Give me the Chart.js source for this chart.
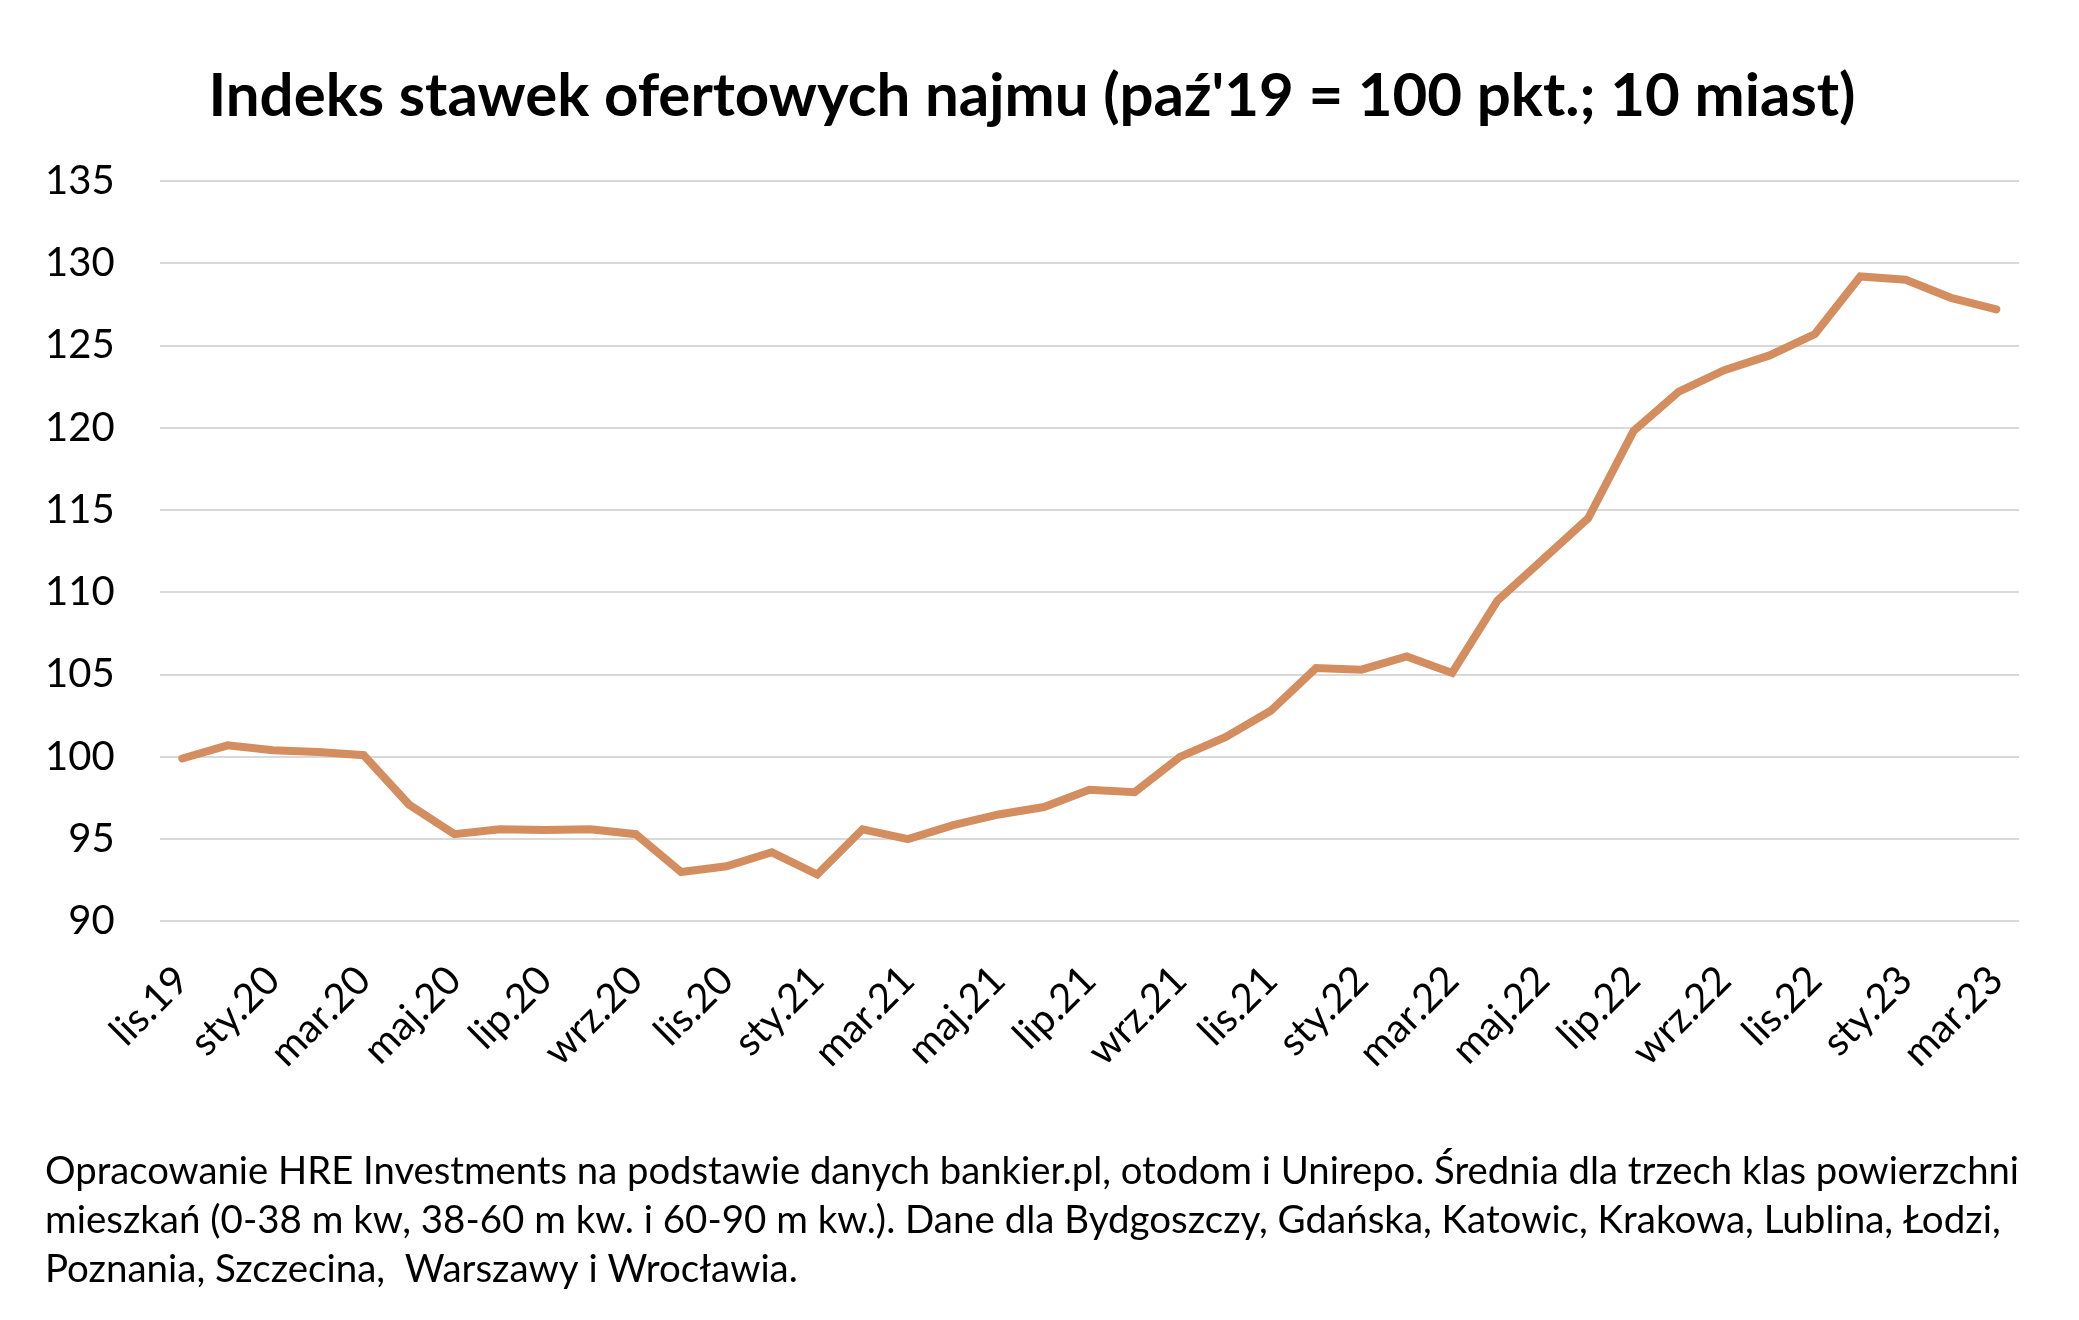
<!DOCTYPE html>
<html lang="pl">
<head>
<meta charset="utf-8">
<title>Indeks stawek ofertowych najmu</title>
<script src="https://cdn.jsdelivr.net/npm/chart.js@4.4.1/dist/chart.umd.min.js"></script>
<style>
  html, body { margin: 0; padding: 0; background: #fff; }
  #wrap { width: 2079px; height: 1320px; }
</style>
</head>
<body>
<div id="wrap"><canvas id="chart" width="2079" height="1320"></canvas></div>
<script>
// miesiące lis.19 - mar.23
const months = [
  "lis.19","gru.19",
  "sty.20","lut.20","mar.20","kwi.20","maj.20","cze.20","lip.20","sie.20","wrz.20","paź.20","lis.20","gru.20",
  "sty.21","lut.21","mar.21","kwi.21","maj.21","cze.21","lip.21","sie.21","wrz.21","paź.21","lis.21","gru.21",
  "sty.22","lut.22","mar.22","kwi.22","maj.22","cze.22","lip.22","sie.22","wrz.22","paź.22","lis.22","gru.22",
  "sty.23","lut.23","mar.23"
];

// indeks (paź'19 = 100)
const indexValues = [
  99.9, 100.7,
  100.4, 100.3, 100.1, 97.1, 95.3, 95.6, 95.55, 95.6, 95.3, 93.0, 93.35, 94.2,
  92.85, 95.6, 95.0, 95.85, 96.5, 96.95, 98.0, 97.85, 100.0, 101.2, 102.8, 105.4,
  105.3, 106.1, 105.1, 109.5, 112.0, 114.5, 119.8, 122.2, 123.5, 124.4, 125.7, 129.2,
  129.0, 127.9, 127.2
];

const yTicks = [90, 95, 100, 105, 110, 115, 120, 125, 130, 135];

const titleText = "Indeks stawek ofertowych najmu (paź'19 = 100 pkt.; 10 miast)";
const noteLines = [
  "Opracowanie HRE Investments na podstawie danych bankier.pl, otodom i Unirepo. Średnia dla trzech klas powierzchni",
  "mieszkań (0-38 m kw, 38-60 m kw. i 60-90 m kw.). Dane dla Bydgoszczy, Gdańska, Katowic, Krakowa, Lublina, Łodzi,",
  "Poznania, Szczecina,  Warszawy i Wrocławia."
];

const FONT = "Lato, 'Open Sans', sans-serif";
const Y_PAD = 45;

new Chart(document.getElementById("chart"), {
  type: "line",
  data: {
    labels: months,
    datasets: [{
      label: "Indeks",
      data: indexValues,
      borderColor: "#d48d5e",
      borderWidth: 8,
      borderCapStyle: "round",
      pointRadius: 0,
      tension: 0,
      fill: false
    }]
  },
  options: {
    responsive: false,
    animation: false,
    layout: { padding: { left: 45, right: 60, top: 0, bottom: 0 } },
    plugins: {
      legend: { display: false },
      tooltip: { enabled: false },
      title: {
        display: true,
        text: titleText,
        color: "#000",
        font: { family: FONT, size: 60, weight: "bold", lineHeight: 1.2 },
        padding: { top: 61, bottom: 48 }
      },
      subtitle: {
        display: true,
        position: "bottom",
        align: "start",
        text: noteLines,
        color: "#000",
        font: { family: FONT, size: 38.5, weight: "normal", lineHeight: 1.27 },
        padding: { top: 36, bottom: 26 }
      }
    },
    scales: {
      x: {
        offset: true,
        grid: { display: false, drawTicks: false },
        border: { display: false },
        ticks: {
          autoSkip: false,
          maxRotation: 45,
          minRotation: 45,
          padding: 35,
          color: "#000",
          font: { family: FONT, size: 40 },
          callback: function(val, i){ return i % 2 === 0 ? this.getLabelForValue(val) : ""; }
        }
      },
      y: {
        min: 90,
        max: 135,
        afterBuildTicks: axis => { axis.ticks = yTicks.map(v => ({ value: v })); },
        // chart.js liczy padding z obu stron etykiet, tu chcemy tylko po prawej
        afterFit: axis => { axis.width -= Y_PAD; },
        grid: { color: "#d9d9d9", lineWidth: 2, drawTicks: false },
        border: { display: false },
        ticks: {
          padding: Y_PAD,
          color: "#000",
          font: { family: FONT, size: 40 }
        }
      }
    }
  }
});
</script>
</body>
</html>
